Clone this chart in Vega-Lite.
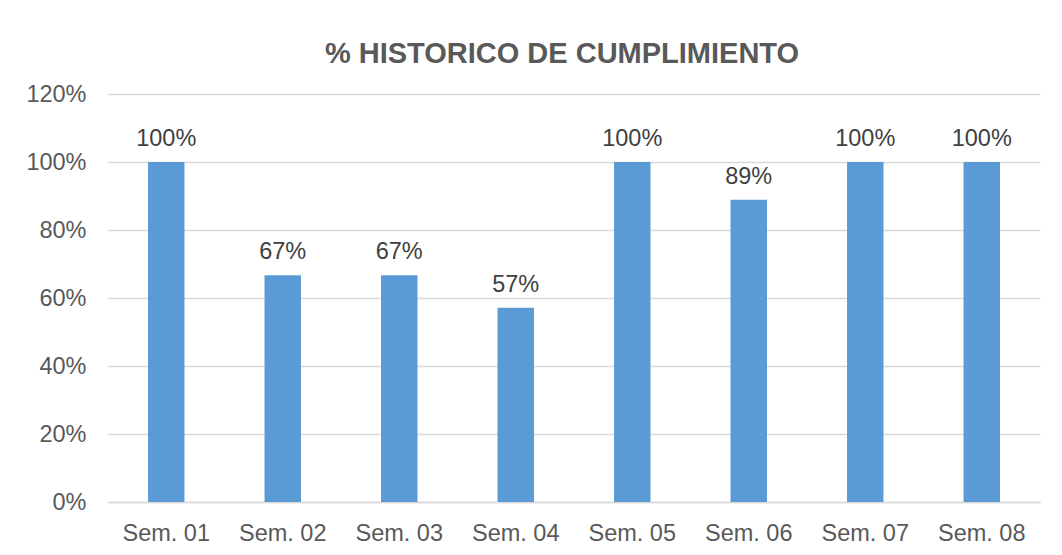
{
  "$schema": "https://vega.github.io/schema/vega-lite/v6.json",
  "width": 932,
  "height": 408,
  "autosize": {"type": "none"},
  "padding": {"left": 108, "top": 94, "right": 22, "bottom": 53},
  "background": "white",
  "config": {
    "font": "Liberation Sans",
    "view": {"stroke": null}
  },
  "title": {
    "text": "% HISTORICO DE CUMPLIMIENTO",
    "font": "Liberation Sans",
    "fontSize": 29,
    "fontWeight": "bold",
    "color": "#595959",
    "anchor": "middle",
    "frame": "group",
    "dx": -12,
    "offset": 13
  },
  "data": {
    "values": [
      {"semana": "Sem. 01", "valor": 1.0},
      {"semana": "Sem. 02", "valor": 0.667},
      {"semana": "Sem. 03", "valor": 0.667},
      {"semana": "Sem. 04", "valor": 0.571},
      {"semana": "Sem. 05", "valor": 1.0},
      {"semana": "Sem. 06", "valor": 0.889},
      {"semana": "Sem. 07", "valor": 1.0},
      {"semana": "Sem. 08", "valor": 1.0}
    ]
  },
  "encoding": {
    "x": {
      "field": "semana",
      "type": "nominal",
      "sort": null,
      "scale": {"paddingInner": 0.687, "paddingOuter": 0.3435},
      "axis": {
        "title": null,
        "labelAngle": 0,
        "labelFontSize": 23.5,
        "labelColor": "#595959",
        "labelFont": "Liberation Sans",
        "labelBaseline": "alphabetic",
        "labelPadding": 38,
        "ticks": false,
        "tickSize": 0,
        "domainColor": "#d9d9d9",
        "domainWidth": 1.5,
        "grid": false
      }
    },
    "y": {
      "field": "valor",
      "type": "quantitative",
      "scale": {"domain": [0, 1.2], "nice": false},
      "axis": {
        "title": null,
        "values": [0, 0.2, 0.4, 0.6, 0.8, 1.0, 1.2],
        "format": ".0%",
        "labelFontSize": 23.5,
        "labelColor": "#595959",
        "labelFont": "Liberation Sans",
        "labelBaseline": "middle",
        "labelPadding": 22,
        "ticks": false,
        "tickSize": 0,
        "domain": false,
        "gridColor": "#d9d9d9",
        "gridWidth": 1.5
      }
    }
  },
  "layer": [
    {"mark": {"type": "bar", "color": "#5b9bd5"}},
    {
      "mark": {
        "type": "text",
        "baseline": "alphabetic",
        "dy": -16,
        "fontSize": 23.5,
        "color": "#404040",
        "font": "Liberation Sans"
      },
      "encoding": {
        "text": {"field": "valor", "type": "quantitative", "format": ".0%"}
      }
    }
  ]
}
